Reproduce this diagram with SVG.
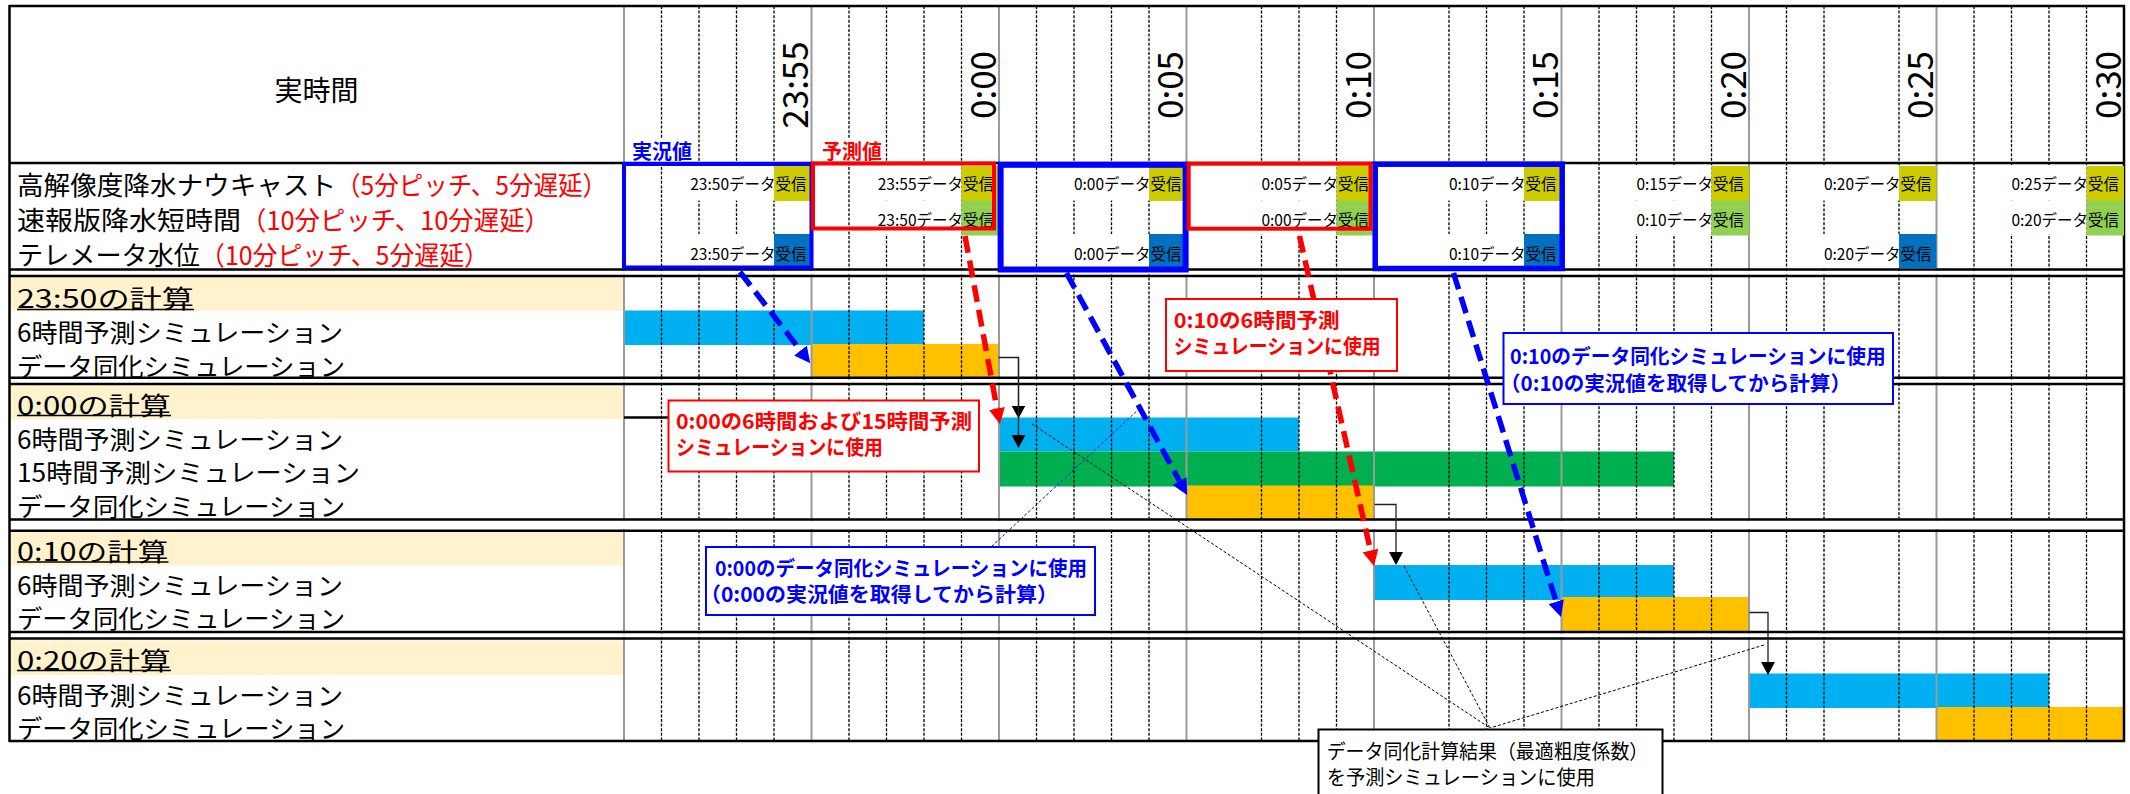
<svg xmlns="http://www.w3.org/2000/svg" width="2130" height="794" viewBox="0 0 2130 794">
<style>
.t{font-family:'Noto Sans CJK JP','Noto Sans CJK SC',sans-serif;dominant-baseline:central;}
.tl{font-size:35px;text-anchor:middle;}
.lab{font-size:26px;}
.sl{font-size:25px;}
.red{fill:#FF0000;}
.dt{font-size:15.5px;text-anchor:end;}
.dash{stroke:#000;stroke-width:1.3;stroke-dasharray:3 1.6;fill:none;}
.solid{stroke:#9a9a9a;stroke-width:2;fill:none;}
.hl{stroke:#000;stroke-width:2.5;fill:none;}
.bb{fill:#00B0F0;}
.ob{fill:#FFC000;}
.gb{fill:#00B050;}
.beige{fill:#FFF2CC;}
.ol{fill:#CCCC00;}
.lg{fill:#92D050;}
.db{fill:#0070C0;}
.wo{fill:#fff;}
.cr{font-size:20.5px;font-weight:700;fill:#FF0000;}
.cb{font-size:20.5px;font-weight:700;fill:#0000FF;}
.ck{font-size:20px;fill:#000;}
.thb{stroke:#0000FF;stroke-width:5.5;stroke-dasharray:17 8;fill:none;}
.thr{stroke:#FF0000;stroke-width:5.5;stroke-dasharray:17 8;fill:none;}
.el{stroke:#222;stroke-width:1.3;fill:none;}
.dot{stroke:#000;stroke-width:1;stroke-dasharray:3 2;fill:none;}
</style>
<defs>
<marker id="mb" markerUnits="userSpaceOnUse" markerWidth="16" markerHeight="16" refX="0" refY="8" orient="auto"><path d="M0,0 L16,8 L0,16 z" fill="#0000FF"/></marker>
<marker id="mr" markerUnits="userSpaceOnUse" markerWidth="16" markerHeight="16" refX="0" refY="8" orient="auto"><path d="M0,0 L16,8 L0,16 z" fill="#FF0000"/></marker>
<marker id="mk" markerUnits="userSpaceOnUse" markerWidth="14" markerHeight="14" refX="0" refY="7" orient="auto"><path d="M0,0 L13,7 L0,14 z" fill="#000"/></marker>
</defs>
<rect x="0" y="0" width="2130" height="794" fill="#fff"/>

<g id="backgrounds">
<rect class="beige" x="10" y="277" width="613" height="34"/>
<rect class="beige" x="10" y="385.5" width="613" height="33.5"/>
<rect class="beige" x="10" y="531.5" width="613" height="34"/>
<rect class="beige" x="10" y="640.5" width="613" height="34.5"/>
</g>

<g id="bars">
<rect class="bb" x="624" y="310.5" width="300" height="34.5"/>
<rect class="ob" x="811.5" y="344" width="187.5" height="33.5"/>
<rect class="bb" x="999" y="417.5" width="300" height="34"/>
<rect class="gb" x="999" y="451.5" width="675" height="35"/>
<rect class="ob" x="1186.5" y="485.5" width="187.5" height="34"/>
<rect class="bb" x="1374" y="565" width="300" height="35"/>
<rect class="ob" x="1561.5" y="597" width="187.5" height="34.5"/>
<rect class="bb" x="1749" y="673.5" width="300" height="34.5"/>
<rect class="ob" x="1936.5" y="707" width="187.5" height="35"/>
</g>

<g id="grid">
<path class="dash" d="M661.5 6V741M699 6V741M736.5 6V741M774 6V741M849 6V741M886.5 6V741M924 6V741M961.5 6V741M1036.5 6V741M1074 6V741M1111.5 6V741M1149 6V741M1261.5 6V741M1299 6V741M1336.5 6V741M1449 6V741M1486.5 6V741M1524 6V741M1599 6V741M1636.5 6V741M1674 6V741M1711.5 6V741M1786.5 6V741M1824 6V741M1899 6V741M1974 6V741M2011.5 6V741M2049 6V741M2086.5 6V741"/>
<path class="solid" d="M624 6V741M811.5 6V741M999 6V741M1186.5 6V741M1374 6V741M1561.5 6V741M1749 6V741M1936.5 6V741"/>
<rect class="wo" x="11" y="271" width="2111" height="3.5"/>
<rect class="wo" x="11" y="379.5" width="2111" height="3"/>
<rect class="wo" x="11" y="521" width="2111" height="8"/>
<rect class="wo" x="11" y="633.5" width="2111" height="3.5"/>
<path class="hl" d="M9 6H2125M9 163H2125M9 269.5H2125M9 276H2125M9 377.8H2125M9 384H2125M9 519.5H2125M9 530.8H2125M9 632H2125M9 638.5H2125M9 741H2125"/>
<path class="hl" d="M9.5 5V742M2124 5V742"/>
</g>

<g id="header">
<text class="t" x="316.5" y="89" font-size="28" text-anchor="middle">実時間</text>
<text class="t tl" transform="translate(792.75,85) rotate(-90)">23:55</text>
<text class="t tl" transform="translate(980.25,85) rotate(-90)">0:00</text>
<text class="t tl" transform="translate(1167.75,85) rotate(-90)">0:05</text>
<text class="t tl" transform="translate(1355.25,85) rotate(-90)">0:10</text>
<text class="t tl" transform="translate(1542.75,85) rotate(-90)">0:15</text>
<text class="t tl" transform="translate(1730.25,85) rotate(-90)">0:20</text>
<text class="t tl" transform="translate(1917.75,85) rotate(-90)">0:25</text>
<text class="t tl" transform="translate(2105.25,85) rotate(-90)">0:30</text>
<rect class="wo" x="629" y="139" width="67" height="22"/>
<rect class="wo" x="818" y="139" width="67" height="22"/>
<text class="t" x="632" y="150" font-size="20" font-weight="700" fill="#0000FF">実況値</text>
<text class="t" x="822" y="150" font-size="20" font-weight="700" fill="#FF0000">予測値</text>
</g>

<g id="data-labels">
<text class="t lab" x="17" y="183" textLength="319" lengthAdjust="spacingAndGlyphs">高解像度降水ナウキャスト</text>
<text class="t lab red" x="336" y="183" textLength="271" lengthAdjust="spacingAndGlyphs">（5分ピッチ、5分遅延）</text>
<text class="t lab" x="17" y="218" textLength="224" lengthAdjust="spacingAndGlyphs">速報版降水短時間</text>
<text class="t lab red" x="241" y="218" textLength="309" lengthAdjust="spacingAndGlyphs">（10分ピッチ、10分遅延）</text>
<text class="t lab" x="17" y="253" textLength="183" lengthAdjust="spacingAndGlyphs">テレメータ水位</text>
<text class="t lab red" x="200" y="253" textLength="289" lengthAdjust="spacingAndGlyphs">（10分ピッチ、5分遅延）</text>
</g>

<g id="data-cells">
<rect class="wo" x="663.5" y="165" width="110.5" height="35.5"/><rect class="wo" x="663.5" y="234" width="110.5" height="34"/>
<rect class="wo" x="851" y="165" width="110.5" height="35.5"/><rect class="wo" x="851" y="200.5" width="110.5" height="34"/>
<rect class="wo" x="1038.5" y="165" width="110.5" height="35.5"/><rect class="wo" x="1038.5" y="234" width="110.5" height="34"/>
<rect class="wo" x="1226" y="165" width="110.5" height="35.5"/><rect class="wo" x="1226" y="200.5" width="110.5" height="34"/>
<rect class="wo" x="1413.5" y="165" width="110.5" height="35.5"/><rect class="wo" x="1413.5" y="234" width="110.5" height="34"/>
<rect class="wo" x="1601" y="165" width="110.5" height="35.5"/><rect class="wo" x="1601" y="200.5" width="110.5" height="34"/>
<rect class="wo" x="1788.5" y="165" width="110.5" height="35.5"/><rect class="wo" x="1788.5" y="234" width="110.5" height="34"/>
<rect class="wo" x="1976" y="165" width="110.5" height="35.5"/><rect class="wo" x="1976" y="200.5" width="110.5" height="34"/>
<rect class="ol" x="774" y="166" width="37.5" height="35"/><rect class="db" x="774" y="234" width="37.5" height="34.5"/>
<rect class="ol" x="961.5" y="166" width="37.5" height="35"/><rect class="lg" x="961.5" y="200.5" width="37.5" height="35"/>
<rect class="ol" x="1149" y="166" width="37.5" height="35"/><rect class="db" x="1149" y="234" width="37.5" height="34.5"/>
<rect class="ol" x="1336.5" y="166" width="37.5" height="35"/><rect class="lg" x="1336.5" y="200.5" width="37.5" height="35"/>
<rect class="ol" x="1524" y="166" width="37.5" height="35"/><rect class="db" x="1524" y="234" width="37.5" height="34.5"/>
<rect class="ol" x="1711.5" y="166" width="37.5" height="35"/><rect class="lg" x="1711.5" y="200.5" width="37.5" height="35"/>
<rect class="ol" x="1899" y="166" width="37.5" height="35"/><rect class="db" x="1899" y="234" width="37.5" height="34.5"/>
<rect class="ol" x="2086.5" y="166" width="37.5" height="35"/><rect class="lg" x="2086.5" y="200.5" width="37.5" height="35"/>
<text class="t dt" x="806.5" y="183">23:50データ受信</text><text class="t dt" x="806.5" y="252.5">23:50データ受信</text>
<text class="t dt" x="994" y="183">23:55データ受信</text><text class="t dt" x="994" y="218.5">23:50データ受信</text>
<text class="t dt" x="1181.5" y="183">0:00データ受信</text><text class="t dt" x="1181.5" y="252.5">0:00データ受信</text>
<text class="t dt" x="1369" y="183">0:05データ受信</text><text class="t dt" x="1369" y="218.5">0:00データ受信</text>
<text class="t dt" x="1556.5" y="183">0:10データ受信</text><text class="t dt" x="1556.5" y="252.5">0:10データ受信</text>
<text class="t dt" x="1744" y="183">0:15データ受信</text><text class="t dt" x="1744" y="218.5">0:10データ受信</text>
<text class="t dt" x="1931.5" y="183">0:20データ受信</text><text class="t dt" x="1931.5" y="252.5">0:20データ受信</text>
<text class="t dt" x="2119" y="183">0:25データ受信</text><text class="t dt" x="2119" y="218.5">0:20データ受信</text>
</g>

<g id="obs-boxes" fill="none">
<rect x="624" y="164" width="187.5" height="103.5" stroke="#0000FF" stroke-width="4"/>
<rect x="1000.6" y="164.8" width="185" height="104.7" stroke="#0000FF" stroke-width="6"/>
<rect x="1375.2" y="164.2" width="187" height="104.3" stroke="#0000FF" stroke-width="5.5"/>
<rect x="813" y="163.5" width="181" height="65" stroke="#FF0000" stroke-width="4"/>
<rect x="1188.7" y="163.7" width="181.8" height="65" stroke="#FF0000" stroke-width="4"/>
</g>

<g id="calc-2350">
<text class="t sl" x="17" y="297" textLength="177" lengthAdjust="spacingAndGlyphs">23:50の計算</text>
<line x1="17" y1="309.5" x2="194" y2="309.5" stroke="#000" stroke-width="1.5"/>
<text class="t sl" x="17" y="331" textLength="326" lengthAdjust="spacingAndGlyphs">6時間予測シミュレーション</text>
<text class="t sl" x="17" y="365" textLength="328" lengthAdjust="spacingAndGlyphs">データ同化シミュレーション</text>
</g>
<g id="calc-0000">
<text class="t sl" x="17" y="404" textLength="154" lengthAdjust="spacingAndGlyphs">0:00の計算</text>
<line x1="17" y1="415.5" x2="171" y2="415.5" stroke="#000" stroke-width="1.5"/>
<text class="t sl" x="17" y="437.5" textLength="326" lengthAdjust="spacingAndGlyphs">6時間予測シミュレーション</text>
<text class="t sl" x="17" y="471" textLength="343" lengthAdjust="spacingAndGlyphs">15時間予測シミュレーション</text>
<text class="t sl" x="17" y="505" textLength="328" lengthAdjust="spacingAndGlyphs">データ同化シミュレーション</text>
</g>
<g id="calc-0010">
<text class="t sl" x="17" y="550" textLength="151.5" lengthAdjust="spacingAndGlyphs">0:10の計算</text>
<line x1="17" y1="562" x2="168.5" y2="562" stroke="#000" stroke-width="1.5"/>
<text class="t sl" x="17" y="583.5" textLength="326" lengthAdjust="spacingAndGlyphs">6時間予測シミュレーション</text>
<text class="t sl" x="17" y="617" textLength="328" lengthAdjust="spacingAndGlyphs">データ同化シミュレーション</text>
</g>
<g id="calc-0020">
<text class="t sl" x="17" y="659" textLength="154" lengthAdjust="spacingAndGlyphs">0:20の計算</text>
<line x1="17" y1="670.5" x2="171" y2="670.5" stroke="#000" stroke-width="1.5"/>
<text class="t sl" x="17" y="693.5" textLength="326" lengthAdjust="spacingAndGlyphs">6時間予測シミュレーション</text>
<text class="t sl" x="17" y="727" textLength="328" lengthAdjust="spacingAndGlyphs">データ同化シミュレーション</text>
</g>

<g id="connectors">
<path d="M624 417.5H669" stroke="#000" stroke-width="2.5" fill="none"/>
<path class="thb" d="M740 272L800.5 350.5" marker-end="url(#mb)"/>
<path class="thr" d="M965 236L997 408.5" marker-end="url(#mr)"/>
<path class="thb" d="M1066.5 273L1179.5 481" marker-end="url(#mb)"/>
<path class="thr" d="M1299.5 236L1370.5 550.5" marker-end="url(#mr)"/>
<path class="thb" d="M1453.5 273L1556.2 601.7" marker-end="url(#mb)"/>
<path class="el" d="M998.5 357.5H1018.5V405.5" marker-end="url(#mk)"/>
<path class="el" d="M1018.5 357.5V435" marker-end="url(#mk)"/>
<path class="el" d="M1374.5 504.5H1396V552" marker-end="url(#mk)"/>
<path class="el" d="M1749.5 612.5H1768V662" marker-end="url(#mk)"/>
<path d="M991.5 546.5L1140 408" stroke="#0000FF" stroke-width="1" stroke-dasharray="3 2" fill="none"/>
<path class="dot" d="M1032 424L1490 728M1404 566L1490 728M1764 645L1490 728"/>
</g>

<g id="callout-0000-forecast">
<rect x="668.5" y="400.5" width="310.5" height="71" fill="#fff" stroke="#FF0000" stroke-width="2"/>
<text class="t cr" x="676" y="420" textLength="296" lengthAdjust="spacingAndGlyphs">0:00の6時間および15時間予測</text>
<text class="t cr" x="676" y="446" textLength="207" lengthAdjust="spacingAndGlyphs">シミュレーションに使用</text>
</g>
<g id="callout-0010-forecast">
<rect x="1166" y="299" width="231" height="72" fill="#fff" stroke="#FF0000" stroke-width="2"/>
<text class="t cr" x="1173.7" y="318.5" textLength="166" lengthAdjust="spacingAndGlyphs">0:10の6時間予測</text>
<text class="t cr" x="1173.7" y="345" textLength="207" lengthAdjust="spacingAndGlyphs">シミュレーションに使用</text>
</g>
<g id="callout-0010-assim">
<rect x="1503.5" y="333" width="389.5" height="71" fill="#fff" stroke="#0000FF" stroke-width="2"/>
<text class="t cb" x="1510" y="354.5" textLength="375.6" lengthAdjust="spacingAndGlyphs">0:10のデータ同化シミュレーションに使用</text>
<text class="t cb" x="1500" y="381.7" textLength="351" lengthAdjust="spacingAndGlyphs">（0:10の実況値を取得してから計算）</text>
</g>
<g id="callout-0000-assim">
<rect x="706" y="547" width="389" height="68" fill="#fff" stroke="#0000FF" stroke-width="2"/>
<text class="t cb" x="715" y="566.7" textLength="372" lengthAdjust="spacingAndGlyphs">0:00のデータ同化シミュレーションに使用</text>
<text class="t cb" x="700" y="593" textLength="358" lengthAdjust="spacingAndGlyphs">（0:00の実況値を取得してから計算）</text>
</g>
<g id="callout-result">
<rect x="1318.5" y="729.5" width="344" height="70" fill="#fff" stroke="#000" stroke-width="2"/>
<text class="t ck" x="1326.7" y="750" textLength="321.6" lengthAdjust="spacingAndGlyphs">データ同化計算結果（最適粗度係数）</text>
<text class="t ck" x="1326.7" y="776" textLength="268.3" lengthAdjust="spacingAndGlyphs">を予測シミュレーションに使用</text>
</g>
</svg>
